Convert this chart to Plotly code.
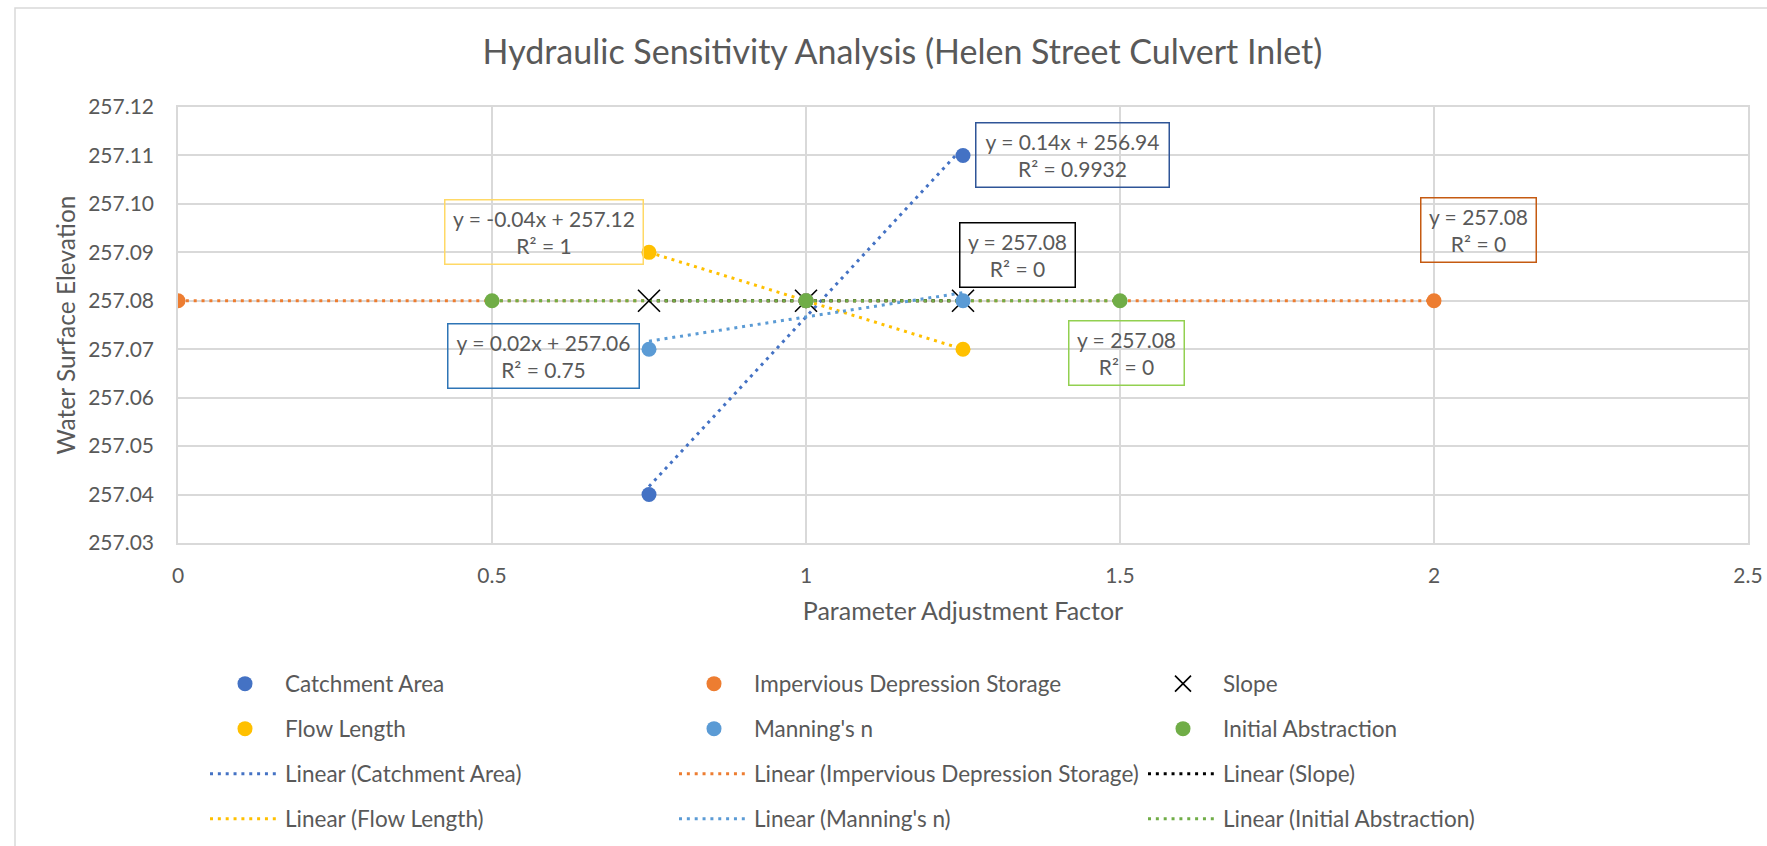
import numpy as np
import plotly.graph_objects as go

# ---------------- data ----------------
series_names = ["Catchment Area", "Impervious Depression Storage", "Slope",
                "Flow Length", "Manning's n", "Initial Abstraction"]

catchment_x = [0.75, 1.0, 1.25]
catchment_y = [257.04, 257.08, 257.11]
impervious_x = [0.0, 1.0, 2.0]
impervious_y = [257.08, 257.08, 257.08]
slope_x = [0.75, 1.0, 1.25]
slope_y = [257.08, 257.08, 257.08]
flow_x = [0.75, 1.0, 1.25]
flow_y = [257.09, 257.08, 257.07]
manning_x = [0.75, 1.0, 1.25]
manning_y = [257.07, 257.08, 257.08]
initial_x = [0.5, 1.0, 1.5]
initial_y = [257.08, 257.08, 257.08]

trend_labels = ["y = 0.14x + 256.94<br>R² = 0.9932",
                "y = 257.08<br>R² = 0",
                "y = 257.08<br>R² = 0",
                "y = -0.04x + 257.12<br>R² = 1",
                "y = 0.02x + 257.06<br>R² = 0.75",
                "y = 257.08<br>R² = 0"]

x_ticks = [0, 0.5, 1, 1.5, 2, 2.5]
y_ticks = [257.03, 257.04, 257.05, 257.06, 257.07, 257.08, 257.09, 257.10, 257.11, 257.12]

# ---------------- styles ----------------
xs = [catchment_x, impervious_x, slope_x, flow_x, manning_x, initial_x]
ys = [catchment_y, impervious_y, slope_y, flow_y, manning_y, initial_y]
colors = ["#4472C4", "#ED7D31", "#000000", "#FFC000", "#5B9BD5", "#70AD47"]
box_colors = ["#2F5597", "#C55A11", "#000000", "#FFD966", "#2E75B6", "#92D050"]
# label box centres (data coords) and widths (px)
box_pos = [(1.425, 257.1100), (2.071, 257.0947), (1.337, 257.0895),
           (0.583, 257.0941), (0.582, 257.0687), (1.510, 257.0692)]
box_w = [195, 117, 117, 200, 193, 117]

FONT = "Lato"
TXT = "#595959"
GRID = "#D9D9D9"

W, H = 1767, 846
L, R, T, B = 178, 19, 107, 303
pw, ph = W - L - R, H - T - B

fig = go.Figure()

# trendlines first (drawn underneath markers)
for i, name in enumerate(series_names):
    x = np.array(xs[i]); y = np.array(ys[i])
    m, c = np.polyfit(x, y, 1)
    xe = np.array([x.min(), x.max()])
    fig.add_trace(go.Scatter(
        x=xe, y=m * xe + c, mode="lines", name=f"Linear ({name})",
        line=dict(color=colors[i], width=3, dash="3px,4.85px"),
        legend="legend3" if i < 3 else "legend4", hoverinfo="skip"))

for i, name in enumerate(series_names):
    if name == "Slope":
        marker = dict(symbol="x-thin", size=22, line=dict(color="#000000", width=1.6), color="#000000")
    else:
        marker = dict(symbol="circle", size=15, color=colors[i])
    fig.add_trace(go.Scatter(
        x=xs[i], y=ys[i], mode="markers", name=name, marker=marker,
        legend="legend" if i < 3 else "legend2"))

for i in range(6):
    fig.add_annotation(
        x=box_pos[i][0], y=box_pos[i][1], xref="x", yref="y",
        text=trend_labels[i], showarrow=False, align="center",
        font=dict(family=FONT, size=21, color=TXT),
        width=box_w[i] - 3, height=63, borderpad=0,
        bordercolor=box_colors[i], borderwidth=1.5)

# chart area outline
fig.add_shape(type="rect", xref="paper", yref="paper",
              x0=(15 - L) / pw, x1=(1790 - L) / pw,
              y0=(H - B - 860) / ph, y1=(H - B - 8) / ph,
              line=dict(color=GRID, width=1.5), layer="below")

row_y = [684, 729, 774, 819]
leg_common = dict(orientation="h", xref="container", yref="container",
                  x=205 / W, xanchor="left", yanchor="middle",
                  entrywidth=384, entrywidthmode="pixels", itemwidth=70,
                  font=dict(family=FONT, size=22.5, color=TXT),
                  bgcolor="rgba(0,0,0,0)", traceorder="normal")

fig.update_layout(
    width=W, height=H,
    margin=dict(l=L, r=R, t=T, b=B, autoexpand=False),
    paper_bgcolor="white", plot_bgcolor="white",
    font=dict(family=FONT, color=TXT),
    title=dict(text="Hydraulic Sensitivity Analysis (Helen Street Culvert Inlet)",
               xref="container", yref="container", x=902.5 / W, y=1 - 52 / H,
               xanchor="center", yanchor="middle",
               font=dict(family=FONT, size=34, color=TXT)),
    showlegend=True,
    legend=dict(leg_common, y=1 - row_y[0] / H),
    legend2=dict(leg_common, y=1 - row_y[1] / H),
    legend3=dict(leg_common, y=1 - row_y[2] / H),
    legend4=dict(leg_common, y=1 - row_y[3] / H),
    xaxis=dict(range=[0, 2.5], tickvals=x_ticks, ticktext=[f"{v:g}" for v in x_ticks],
               showgrid=True, gridcolor=GRID, gridwidth=1.5, zeroline=False,
               showline=True, linecolor=GRID, linewidth=1.5, mirror=True,
               ticks="outside", ticklen=13, tickcolor="rgba(0,0,0,0)",
               tickfont=dict(family=FONT, size=21, color=TXT),
               title=dict(text="Parameter Adjustment Factor", standoff=17,
                          font=dict(family=FONT, size=25, color=TXT))),
    yaxis=dict(range=[257.03, 257.12], tickvals=y_ticks, ticktext=[f"{v:.2f}" for v in y_ticks],
               showgrid=True, gridcolor=GRID, gridwidth=1.5, zeroline=False,
               showline=True, linecolor=GRID, linewidth=1.5, mirror=True,
               ticks="outside", ticklen=18, tickcolor="rgba(0,0,0,0)",
               tickfont=dict(family=FONT, size=21, color=TXT),
               title=dict(text="Water Surface Elevation", standoff=6,
                          font=dict(family=FONT, size=24.5, color=TXT))),
)

fig.write_html("out.html", config={"displayModeBar": False},
               post_script="document.body.style.margin='0';document.body.style.overflow='hidden';")
